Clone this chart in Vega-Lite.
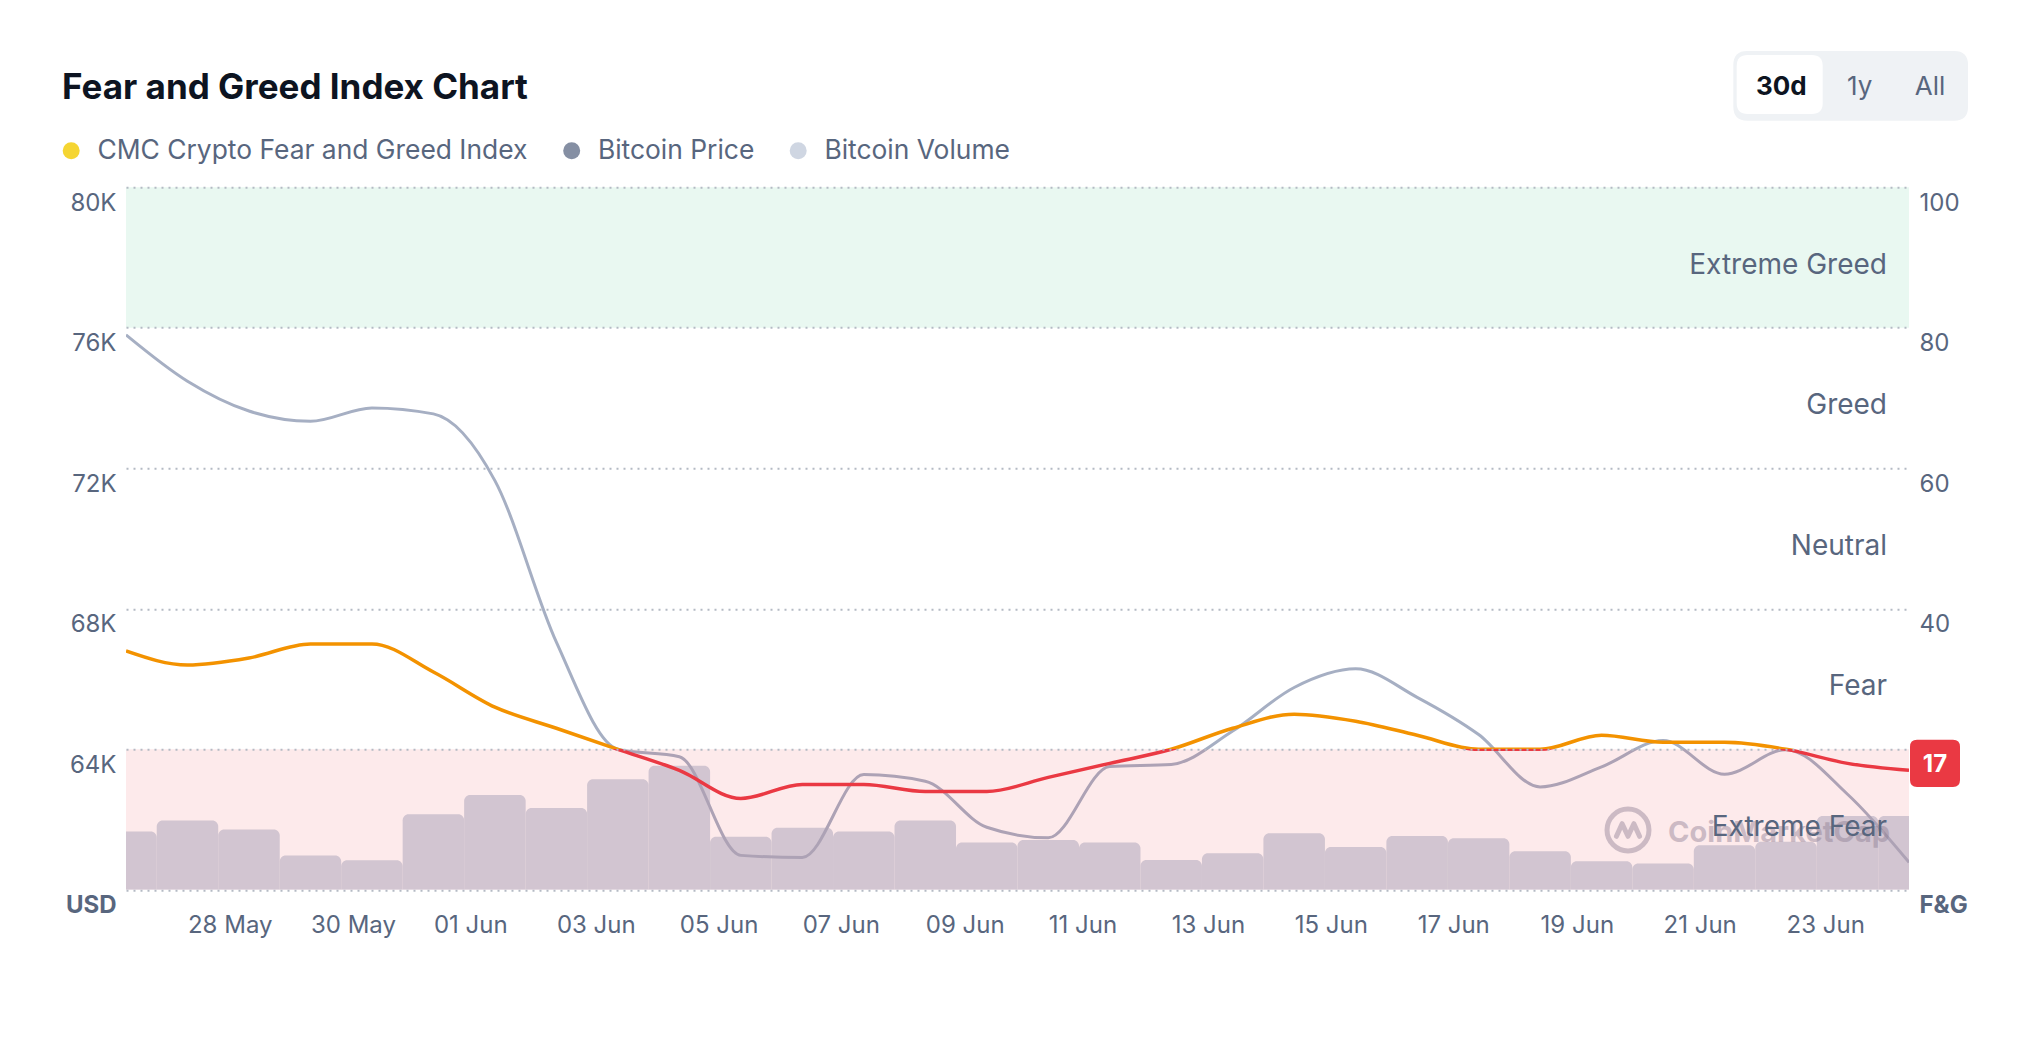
{
  "$schema": "https://vega.github.io/schema/vega-lite/v6.json",
  "width": 1783,
  "height": 702.5,
  "autosize": {"type": "none"},
  "padding": {"left": 126, "top": 187.3, "right": 123, "bottom": 172.2},
  "background": "#ffffff",
  "config": {"view": {"stroke": null}, "font": "Inter"},
  "title": {"text": "Fear and Greed Index Chart", "anchor": "start", "frame": "group", "dx": -64, "offset": -83, "baseline": "alphabetic", "fontSize": 35, "fontWeight": 700, "font": "Inter", "color": "#0d1421"},
  "datasets": {
    "daily": [
      {"date": "2024-05-27T00:00:00", "fg": 34, "price": 75800, "volume": 16.6},
      {"date": "2024-05-28T00:00:00", "fg": 32, "price": 74480, "volume": 19.7},
      {"date": "2024-05-29T00:00:00", "fg": 33, "price": 73630, "volume": 17.2},
      {"date": "2024-05-30T00:00:00", "fg": 35, "price": 73340, "volume": 9.8},
      {"date": "2024-05-31T00:00:00", "fg": 35, "price": 73720, "volume": 8.4},
      {"date": "2024-06-01T00:00:00", "fg": 31, "price": 73550, "volume": 21.5},
      {"date": "2024-06-02T00:00:00", "fg": 26, "price": 71650, "volume": 27.0},
      {"date": "2024-06-03T00:00:00", "fg": 23, "price": 67050, "volume": 23.3},
      {"date": "2024-06-04T00:00:00", "fg": 20, "price": 64000, "volume": 31.5},
      {"date": "2024-06-05T00:00:00", "fg": 17, "price": 63790, "volume": 35.3},
      {"date": "2024-06-06T00:00:00", "fg": 13, "price": 60980, "volume": 15.1},
      {"date": "2024-06-07T00:00:00", "fg": 15, "price": 60920, "volume": 17.7},
      {"date": "2024-06-08T00:00:00", "fg": 15, "price": 63280, "volume": 16.6},
      {"date": "2024-06-09T00:00:00", "fg": 14, "price": 63090, "volume": 19.7},
      {"date": "2024-06-10T00:00:00", "fg": 14, "price": 61780, "volume": 13.5},
      {"date": "2024-06-11T00:00:00", "fg": 16, "price": 61480, "volume": 14.2},
      {"date": "2024-06-12T00:00:00", "fg": 18, "price": 63510, "volume": 13.5},
      {"date": "2024-06-13T00:00:00", "fg": 20, "price": 63570, "volume": 8.5},
      {"date": "2024-06-14T00:00:00", "fg": 23, "price": 64520, "volume": 10.4},
      {"date": "2024-06-15T00:00:00", "fg": 25, "price": 65760, "volume": 16.1},
      {"date": "2024-06-16T00:00:00", "fg": 24, "price": 66290, "volume": 12.2},
      {"date": "2024-06-17T00:00:00", "fg": 22, "price": 65480, "volume": 15.3},
      {"date": "2024-06-18T00:00:00", "fg": 20, "price": 64420, "volume": 14.7},
      {"date": "2024-06-19T00:00:00", "fg": 20, "price": 62930, "volume": 11.0},
      {"date": "2024-06-20T00:00:00", "fg": 22, "price": 63500, "volume": 8.1},
      {"date": "2024-06-21T00:00:00", "fg": 21, "price": 64250, "volume": 7.5},
      {"date": "2024-06-22T00:00:00", "fg": 21, "price": 63290, "volume": 12.7},
      {"date": "2024-06-23T00:00:00", "fg": 20, "price": 63990, "volume": 13.7},
      {"date": "2024-06-24T00:00:00", "fg": 18, "price": 62720, "volume": 21.0},
      {"date": "2024-06-25T00:00:00", "fg": 17, "price": 60780, "volume": 21.0}
    ],
    "bands": [
      {"zone": "Extreme Greed", "lo": 80, "hi": 100},
      {"zone": "Extreme Fear", "lo": 0, "hi": 20}
    ],
    "zones": [
      {"zone": "Extreme Greed", "mid": 90},
      {"zone": "Greed", "mid": 70},
      {"zone": "Neutral", "mid": 50},
      {"zone": "Fear", "mid": 30},
      {"zone": "Extreme Fear", "mid": 10}
    ],
    "series": [
      {"name": "CMC Crypto Fear and Greed Index"},
      {"name": "Bitcoin Price"},
      {"name": "Bitcoin Volume"}
    ]
  },
  "resolve": {"scale": {"y": "independent", "color": "independent"}, "axis": {"y": "independent"}},
  "layer": [
    {
      "data": {"name": "bands"},
      "transform": [{"filter": {"field": "zone", "equal": "Extreme Greed"}}],
      "mark": {"type": "rect", "color": "#e9f8f1"},
      "encoding": {
        "y": {"field": "lo", "type": "quantitative", "scale": {"domain": [0, 100], "nice": false}, "axis": null},
        "y2": {"field": "hi"}
      }
    },
    {
      "data": {"name": "daily"},
      "mark": {"type": "bar", "width": 61.5, "color": "#cfd6e2", "cornerRadiusTopLeft": 6, "cornerRadiusTopRight": 6, "clip": true, "orient": "vertical"},
      "encoding": {
        "x": {
          "field": "date", "type": "temporal",
          "scale": {"domain": [{"year": 2024, "month": 5, "date": 27}, {"year": 2024, "month": 6, "date": 25}], "padding": 0, "nice": false},
          "axis": {
            "values": [
              {"year": 2024, "month": 5, "date": 28}, {"year": 2024, "month": 5, "date": 30},
              {"year": 2024, "month": 6, "date": 1}, {"year": 2024, "month": 6, "date": 3},
              {"year": 2024, "month": 6, "date": 5}, {"year": 2024, "month": 6, "date": 7},
              {"year": 2024, "month": 6, "date": 9}, {"year": 2024, "month": 6, "date": 11},
              {"year": 2024, "month": 6, "date": 13}, {"year": 2024, "month": 6, "date": 15},
              {"year": 2024, "month": 6, "date": 17}, {"year": 2024, "month": 6, "date": 19},
              {"year": 2024, "month": 6, "date": 21}, {"year": 2024, "month": 6, "date": 23}
            ],
            "format": "%d %b", "labelAlign": "left", "labelBaseline": "alphabetic", "labelPadding": 43,
            "labelFontSize": 24, "labelColor": "#58667e", "labelFont": "Inter",
            "domain": false, "ticks": false, "tickSize": 0, "grid": false, "title": null,
            "labelOverlap": false, "labelFlush": false, "labelBound": false
          }
        },
        "y": {"field": "volume", "type": "quantitative", "stack": null, "scale": {"domain": [0, 200], "nice": false}, "axis": null}
      }
    },
    {
      "data": {"name": "daily"},
      "mark": {"type": "line", "interpolate": "monotone", "color": "#a6afc3", "strokeWidth": 3, "clip": true},
      "encoding": {
        "x": {"field": "date", "type": "temporal"},
        "y": {
          "field": "price", "type": "quantitative",
          "scale": {"domain": [60000, 80000], "nice": false, "zero": false},
          "axis": {
            "orient": "left", "values": [60000, 64000, 68000, 72000, 76000, 80000],
            "labelExpr": "datum.value == 60000 ? 'USD' : format(datum.value / 1000, 'd') + 'K'",
            "labelFontWeight": {"condition": {"test": "datum.value == 60000", "value": 700}, "value": 400},
            "labelFontSize": 24, "labelColor": "#58667e", "labelFont": "Inter",
            "labelPadding": 10, "labelBaseline": "alphabetic", "labelOffset": 23,
            "domain": false, "ticks": false, "tickSize": 0,
            "grid": true, "gridColor": "#b4bac4", "gridDash": [2, 5], "gridWidth": 2,
            "title": null, "zindex": 1, "labelBound": false, "labelOverlap": false, "labelFlush": false
          }
        }
      }
    },
    {
      "data": {"name": "bands"},
      "transform": [{"filter": {"field": "zone", "equal": "Extreme Fear"}}],
      "mark": {"type": "rect", "color": "#ea3943", "opacity": 0.105},
      "encoding": {
        "y": {"field": "lo", "type": "quantitative", "scale": {"domain": [0, 100], "nice": false}, "axis": null},
        "y2": {"field": "hi"}
      }
    },
    {
      "data": {"values": [{"label": "CoinMarketCap"}]},
      "layer": [
        {
          "mark": {"type": "point", "shape": "circle", "filled": false, "strokeWidth": 5, "size": 1760, "color": "#8a7a90", "opacity": 0.42, "xOffset": -281, "yOffset": -59.8},
          "encoding": {
            "x": {"datum": {"year": 2024, "month": 6, "date": 25}, "type": "temporal"},
            "y": {"datum": 0, "type": "quantitative", "scale": {"domain": [0, 100], "nice": false}, "axis": null}
          }
        },
        {
          "mark": {"type": "point", "shape": "M-0.55,0.3 L-0.28,-0.3 L0,0.3 L0.28,-0.3 L0.55,0.3", "filled": false, "strokeWidth": 5, "strokeJoin": "round", "strokeCap": "round", "size": 1760, "color": "#8a7a90", "opacity": 0.42, "xOffset": -281, "yOffset": -59.8},
          "encoding": {
            "x": {"datum": {"year": 2024, "month": 6, "date": 25}, "type": "temporal"},
            "y": {"datum": 0, "type": "quantitative", "scale": {"domain": [0, 100], "nice": false}, "axis": null}
          }
        },
        {
          "mark": {"type": "text", "align": "right", "baseline": "alphabetic", "dx": -19, "dy": -48, "fontSize": 29, "fontWeight": 700, "font": "Inter", "color": "#8a7a90", "opacity": 0.42},
          "encoding": {
            "x": {"datum": {"year": 2024, "month": 6, "date": 25}, "type": "temporal"},
            "y": {"datum": 0, "type": "quantitative", "scale": {"domain": [0, 100], "nice": false}, "axis": null},
            "text": {"field": "label"}
          }
        }
      ]
    },
    {
      "data": {"name": "daily"},
      "mark": {
        "type": "line", "interpolate": "monotone", "strokeWidth": 3.5, "clip": true,
        "stroke": {
          "gradient": "linear", "x1": 0, "y1": 0, "x2": 0, "y2": 1,
          "stops": [
            {"offset": 0, "color": "#f39200"},
            {"offset": 0.6818, "color": "#f39200"},
            {"offset": 0.6818, "color": "#ea3943"},
            {"offset": 1, "color": "#ea3943"}
          ]
        }
      },
      "encoding": {
        "x": {"field": "date", "type": "temporal"},
        "y": {
          "field": "fg", "type": "quantitative",
          "scale": {"domain": [0, 100], "nice": false},
          "axis": {
            "orient": "right", "values": [0, 40, 60, 80, 100],
            "labelExpr": "datum.value == 0 ? 'F&G' : datum.label",
            "labelFontWeight": {"condition": {"test": "datum.value == 0", "value": 700}, "value": 400},
            "labelFontSize": 24, "labelColor": "#58667e", "labelFont": "Inter",
            "labelPadding": 10, "labelBaseline": "alphabetic", "labelOffset": 23,
            "domain": false, "ticks": false, "tickSize": 0, "grid": false,
            "title": null, "zindex": 1, "labelBound": false, "labelOverlap": false, "labelFlush": false
          }
        }
      }
    },
    {
      "data": {"name": "zones"},
      "mark": {"type": "text", "align": "right", "baseline": "alphabetic", "dx": -22, "dy": 16, "fontSize": 28, "font": "Inter", "color": "#58667e"},
      "encoding": {
        "x": {"datum": {"year": 2024, "month": 6, "date": 25}, "type": "temporal"},
        "y": {"field": "mid", "type": "quantitative", "scale": {"domain": [0, 100], "nice": false}, "axis": null},
        "text": {"field": "zone"}
      }
    },
    {
      "data": {"name": "daily"},
      "transform": [{"filter": {"field": "date", "equal": {"year": 2024, "month": 6, "date": 25}}}],
      "layer": [
        {
          "mark": {"type": "point", "shape": "M-0.72,-0.948 H0.72 Q1,-0.948 1,-0.668 V0.668 Q1,0.948 0.72,0.948 H-0.72 Q-1,0.948 -1,0.668 V-0.668 Q-1,-0.948 -0.72,-0.948 Z", "size": 2500, "filled": true, "color": "#ea3943", "opacity": 1, "strokeWidth": 0, "xOffset": 26, "yOffset": -7},
          "encoding": {
            "x": {"field": "date", "type": "temporal"},
            "y": {"field": "fg", "type": "quantitative", "scale": {"domain": [0, 100], "nice": false}, "axis": null}
          }
        },
        {
          "mark": {"type": "text", "align": "center", "baseline": "alphabetic", "dx": 26, "dy": 1.5, "fontSize": 24, "fontWeight": 700, "font": "Inter", "color": "#ffffff"},
          "encoding": {
            "x": {"field": "date", "type": "temporal"},
            "y": {"field": "fg", "type": "quantitative", "scale": {"domain": [0, 100], "nice": false}, "axis": null},
            "text": {"field": "fg"}
          }
        }
      ]
    },
    {
      "data": {"values": [{"range": "30d"}]},
      "layer": [
        {
          "mark": {"type": "point", "shape": "M-0.881,-0.297 H0.881 Q1,-0.297 1,-0.178 V0.178 Q1,0.297 0.881,0.297 H-0.881 Q-1,0.297 -1,0.178 V-0.178 Q-1,-0.297 -0.881,-0.297 Z", "size": 55084, "filled": true, "color": "#eff2f5", "opacity": 1, "strokeWidth": 0, "xOffset": -58.3, "yOffset": -101.45},
          "encoding": {
            "x": {"datum": {"year": 2024, "month": 6, "date": 25}, "type": "temporal"},
            "y": {"datum": 100, "type": "quantitative", "scale": {"domain": [0, 100], "nice": false}, "axis": null}
          }
        },
        {
          "mark": {"type": "point", "shape": "M-0.744,-0.686 H0.744 Q1,-0.686 1,-0.43 V0.43 Q1,0.686 0.744,0.686 H-0.744 Q-1,0.686 -1,0.43 V-0.43 Q-1,-0.686 -0.744,-0.686 Z", "size": 7396, "filled": true, "color": "#ffffff", "opacity": 1, "strokeWidth": 0, "xOffset": -129.3, "yOffset": -102.8},
          "encoding": {
            "x": {"datum": {"year": 2024, "month": 6, "date": 25}, "type": "temporal"},
            "y": {"datum": 100, "type": "quantitative", "scale": {"domain": [0, 100], "nice": false}, "axis": null}
          }
        },
        {
          "mark": {"type": "text", "align": "center", "baseline": "alphabetic", "dx": -127.7, "dy": -92.3, "fontSize": 26, "fontWeight": 700, "font": "Inter", "color": "#0d1421"},
          "encoding": {
            "x": {"datum": {"year": 2024, "month": 6, "date": 25}, "type": "temporal"},
            "y": {"datum": 100, "type": "quantitative", "scale": {"domain": [0, 100], "nice": false}, "axis": null},
            "text": {"field": "range"}
          }
        }
      ]
    },
    {
      "data": {"values": [{"range": "1y"}]},
      "mark": {"type": "text", "align": "center", "baseline": "alphabetic", "dx": -49.3, "dy": -92.3, "fontSize": 26, "font": "Inter", "color": "#58667e"},
      "encoding": {
        "x": {"datum": {"year": 2024, "month": 6, "date": 25}, "type": "temporal"},
        "y": {"datum": 100, "type": "quantitative", "scale": {"domain": [0, 100], "nice": false}, "axis": null},
        "text": {"field": "range"}
      }
    },
    {
      "data": {"values": [{"range": "All"}]},
      "mark": {"type": "text", "align": "center", "baseline": "alphabetic", "dx": 21, "dy": -92.3, "fontSize": 26, "font": "Inter", "color": "#58667e"},
      "encoding": {
        "x": {"datum": {"year": 2024, "month": 6, "date": 25}, "type": "temporal"},
        "y": {"datum": 100, "type": "quantitative", "scale": {"domain": [0, 100], "nice": false}, "axis": null},
        "text": {"field": "range"}
      }
    },
    {
      "data": {"name": "series"},
      "mark": {"type": "point", "filled": true, "opacity": 0},
      "encoding": {
        "color": {
          "field": "name", "type": "nominal",
          "scale": {"domain": ["CMC Crypto Fear and Greed Index", "Bitcoin Price", "Bitcoin Volume"], "range": ["#f5d532", "#858fa3", "#cfd6e2"]},
          "legend": {
            "orient": "none", "legendX": -68, "legendY": -50, "direction": "horizontal", "title": null,
            "symbolType": "circle", "symbolSize": 289, "symbolOpacity": 1, "symbolStrokeWidth": 0,
            "labelFontSize": 26.4, "labelColor": "#58667e", "labelFont": "Inter", "labelOffset": 13,
            "columnPadding": 30.5, "padding": 0, "labelLimit": 1000
          }
        }
      }
    }
  ]
}
